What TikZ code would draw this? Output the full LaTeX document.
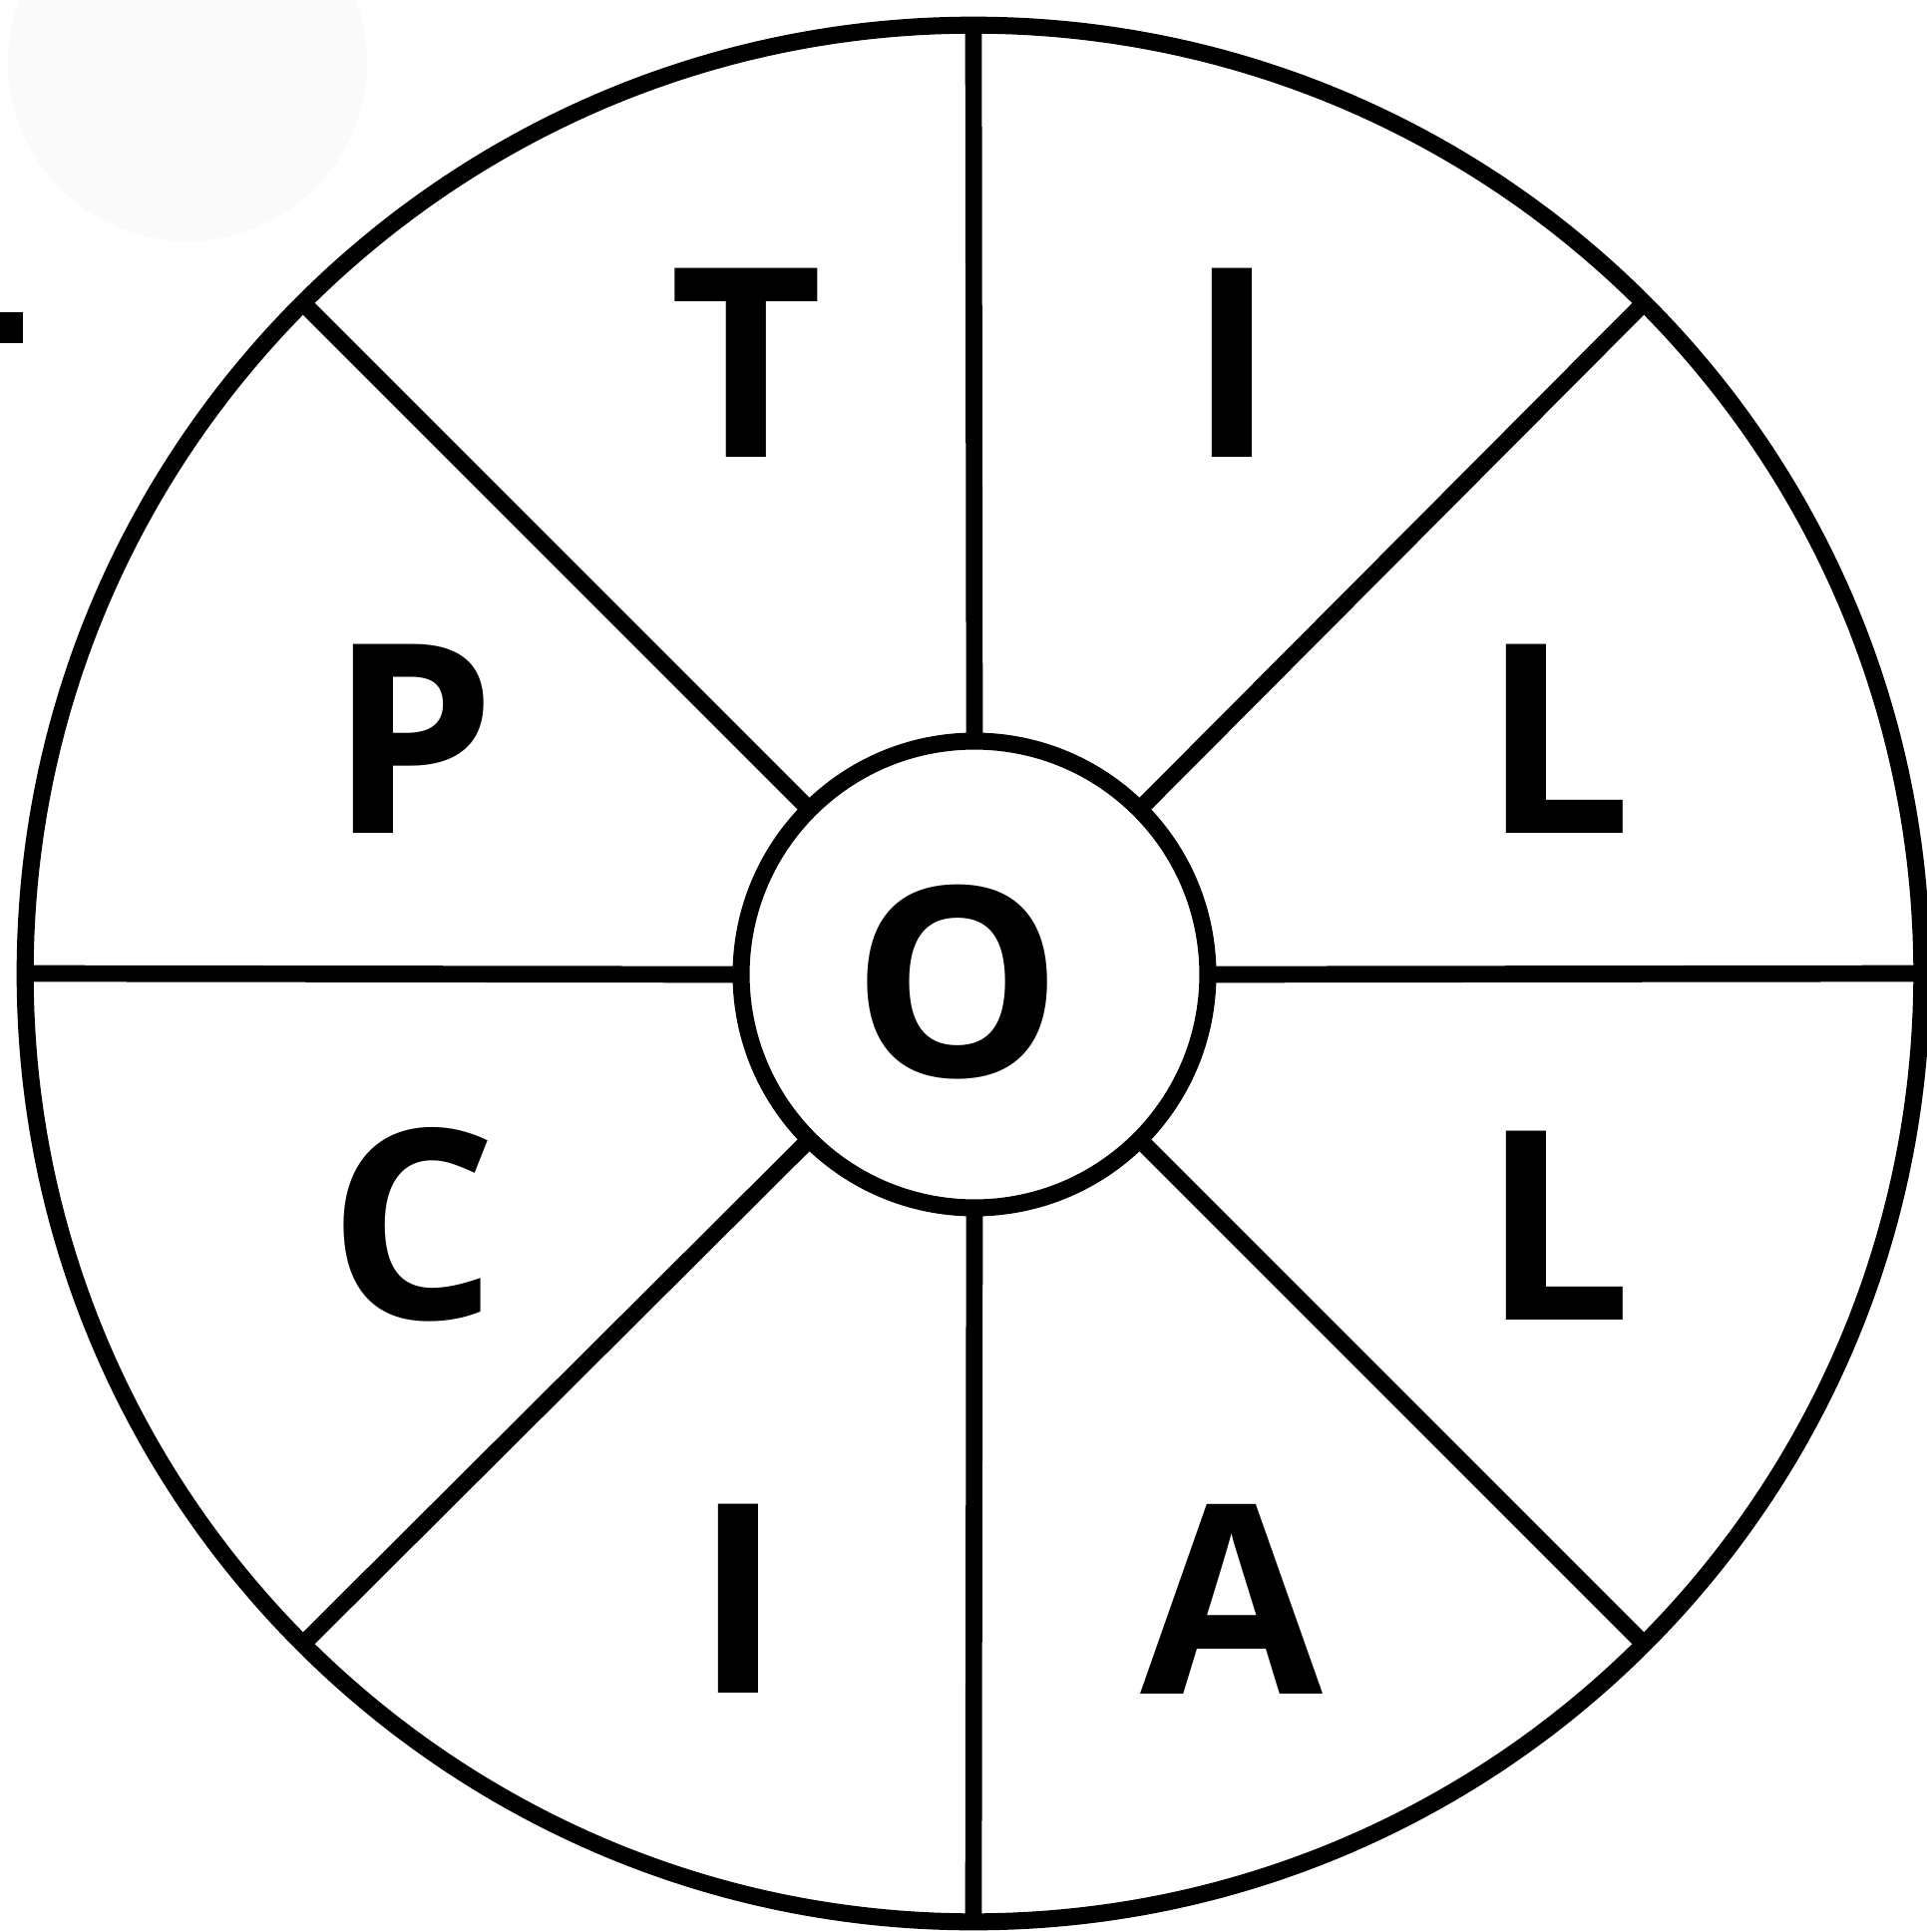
\documentclass[tikz,border=0pt]{standalone}
\usepackage{fontspec}
\setmainfont{Open Sans}

\begin{document}
\begin{tikzpicture}[x=0.02cm,y=-0.02cm,
  ring/.style={circle,draw,line width=9.7pt,inner sep=0pt,outer sep=0pt},
  spoke/.style={line width=9.5pt},
  letter/.style={font=\fontsize{151}{151}\selectfont\bfseries,inner sep=0pt}]
  \useasboundingbox (0,0) rectangle (1931,1937);
  \fill[black!2] (188,62) circle[radius=180];
  \fill (0,313) rectangle (23,344);
  % wheel
  \node[ring,minimum size=38.04cm] (rim) at (976,976) {};
  \node[ring,minimum size=9.36cm] (hub) at (977,977) {};
  \foreach \a in {0,45,...,315}
    \draw[spoke] (hub.\a) -- (rim.\a);
  % letters
  \node[letter] (centre) at (960,985) {O};
  \node[letter] (seg1) at (748,364) {T};
  \node[letter] (seg2) at (1235,364) {I};
  \node[letter] (seg3) at (1561,741) {L};
  \node[letter] (seg4) at (1561,1229) {L};
  \node[letter] (seg5) at (1235,1603) {A};
  \node[letter] (seg6) at (740,1603) {I};
  \node[letter] (seg7) at (414,1228) {C};
  \node[letter] (seg8) at (414,741) {P};
\end{tikzpicture}
\end{document}
